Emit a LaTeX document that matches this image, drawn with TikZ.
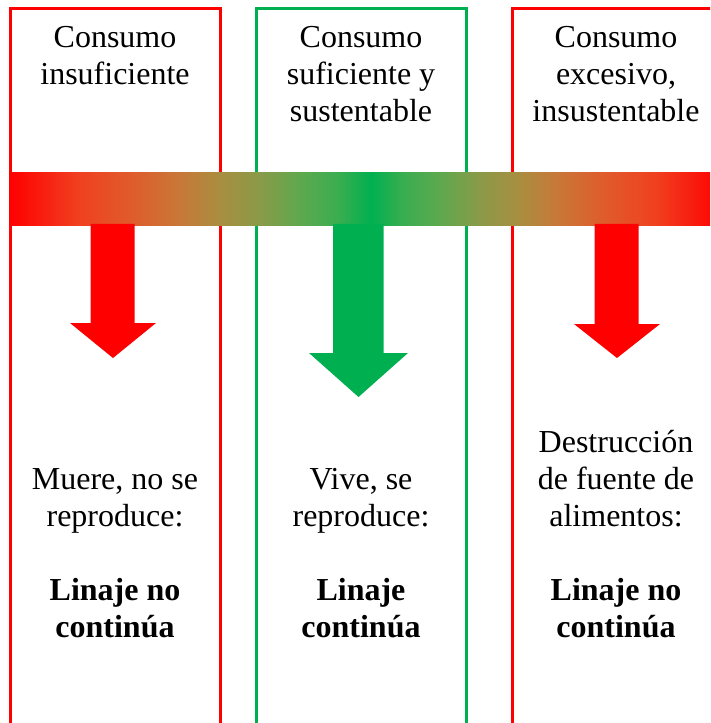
\documentclass[tikz,border=0pt]{standalone}
\usepackage{fontspec}
\setmainfont{Liberation Serif}
\definecolor{rojo}{HTML}{FF0000}
\definecolor{verde}{HTML}{00B050}
\definecolor{grad1}{HTML}{F04020}
\definecolor{grad2}{HTML}{E05A2C}
\definecolor{grad3}{HTML}{C87838}
\definecolor{grad4}{HTML}{A88E40}
\definecolor{grad5}{HTML}{8A9A48}
\definecolor{grad6}{HTML}{5FA84E}
\definecolor{grad7}{HTML}{38AE50}
\pgfdeclarehorizontalshading{rojoverde}{100bp}{color(0bp)=(rojo); color(25bp)=(rojo);
  color(34.5bp)=(grad1); color(41.5bp)=(grad2); color(48.5bp)=(grad3); color(54bp)=(grad4);
  color(59.5bp)=(grad5); color(65bp)=(grad6); color(70.5bp)=(grad7); color(75bp)=(verde); color(100bp)=(verde)}
\begin{document}
\begin{tikzpicture}[x=.75pt,y=-.75pt,
  caja/.style={line width=2.25pt},
  texto/.style={align=center,inner sep=0pt,anchor=base,font=\fontsize{24}{27.75}\selectfont},
  negrita/.style={texto,font=\fontsize{24}{27.75}\selectfont\bfseries}]
\useasboundingbox (0,0) rectangle (710,723);
\clip (0,0) rectangle (710,723);
\draw[caja,rojo]  (10,730) -- (10,8.5) -- (220,8.5) -- (220,730);
\draw[caja,verde] (256.5,730) -- (256.5,8.5) -- (466,8.5) -- (466,730);
\draw[caja,rojo]  (512,730) -- (512,8.5) -- (722,8.5) -- (722,730);
\shade[shading=rojoverde] (10,173) rectangle (371.5,226);
\shade[shading=rojoverde,shading angle=180] (371,173) rectangle (722,226);
\fill[rojo]  (90.5,224) -- (90.5,323) -- (70,323) -- (113,358) -- (156,323) -- (134.5,323) -- (134.5,224) -- cycle;
\fill[verde] (333,224) -- (333,353) -- (309,353) -- (358.5,397) -- (408,353) -- (383.5,353) -- (383.5,224) -- cycle;
\fill[rojo]  (594.5,224) -- (594.5,324) -- (574,324) -- (617,358) -- (660,324) -- (638.5,324) -- (638.5,224) -- cycle;
\node[texto] (insuf) at (115,85) {Consumo\\insuficiente};
\node[texto] (sufic) at (361,122) {Consumo\\suficiente y\\sustentable};
\node[texto] (exces) at (616,122) {Consumo\\excesivo,\\insustentable};
\node[texto] (muere) at (115,526) {Muere, no se\\reproduce:};
\node[texto] (vive)  at (361,526) {Vive, se\\reproduce:};
\node[texto] (destr) at (616,526) {Destrucción\\de fuente de\\alimentos:};
\node[negrita] (linajeA) at (115,637) {Linaje no\\continúa};
\node[negrita] (linajeB) at (361,637) {Linaje\\continúa};
\node[negrita] (linajeC) at (616,637) {Linaje no\\continúa};
\end{tikzpicture}
\end{document}
